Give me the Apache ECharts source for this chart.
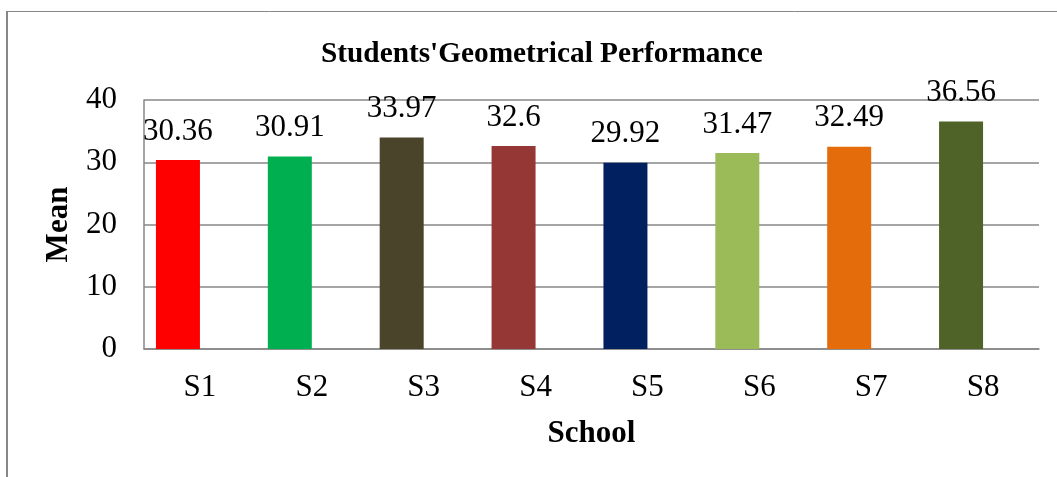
<!DOCTYPE html>
<html>
<head>
<meta charset="utf-8">
<script src="https://cdn.jsdelivr.net/npm/echarts@6/dist/echarts.min.js"></script>
<style>
html,body{margin:0;padding:0;background:#fff;}
#chart{width:1057px;height:477px;}
</style>
</head>
<body>
<div id="chart"></div>
<script>
const schools = ['S1','S2','S3','S4','S5','S6','S7','S8'];
const means = [30.36, 30.91, 33.97, 32.6, 29.92, 31.47, 32.49, 36.56];
const yTicks = [0, 10, 20, 30, 40];
const barColors = ['#FF0000','#00B050','#4A452A','#953735','#002060','#9BBB59','#E46C0A','#4F6228'];

const FONT = '"Liberation Serif", "Times New Roman", serif';
const GRAY = '#878787';

const chart = echarts.init(document.getElementById('chart'), null, {renderer: 'canvas'});
chart.setOption({
  backgroundColor: '#ffffff',
  animation: false,
  title: {
    text: "Students'Geometrical Performance",
    left: 316,
    top: 35,
    textStyle: {fontFamily: FONT, fontSize: 29.3, fontWeight: 'bold', color: '#000'}
  },
  graphic: [
    {type: 'line', shape: {x1: 7, y1: 11.5, x2: 1057, y2: 11.5}, style: {stroke: GRAY, lineWidth: 1}, silent: true},
    {type: 'line', shape: {x1: 7, y1: 11, x2: 7, y2: 477}, style: {stroke: GRAY, lineWidth: 2}, silent: true}
  ],
  grid: {left: 144, right: 18, top: 100, bottom: 128, containLabel: false},
  xAxis: {
    type: 'category',
    data: schools,
    name: 'School',
    nameLocation: 'middle',
    nameGap: 69,
    nameTextStyle: {fontFamily: FONT, fontSize: 31, fontWeight: 'bold', color: '#000'},
    axisLine: {show: true, lineStyle: {color: GRAY, width: 1.5}},
    axisTick: {show: false},
    axisLabel: {fontFamily: FONT, fontSize: 31, color: '#000', margin: 23}
  },
  yAxis: {
    type: 'value',
    min: yTicks[0],
    max: yTicks[yTicks.length - 1],
    interval: yTicks[1] - yTicks[0],
    name: 'Mean',
    nameLocation: 'middle',
    nameRotate: 90,
    nameGap: 70,
    nameTextStyle: {fontFamily: FONT, fontSize: 31, fontWeight: 'bold', color: '#000'},
    axisLine: {show: true, lineStyle: {color: GRAY, width: 1.5}},
    axisTick: {show: false},
    splitLine: {show: true, lineStyle: {color: GRAY, width: 1.5}},
    axisLabel: {fontFamily: FONT, fontSize: 31, color: '#000', margin: 27}
  },
  series: [
    {
      type: 'bar',
      barWidth: 44,
      barGap: '0%',
      data: means.map((v, i) => ({value: v, itemStyle: {color: barColors[i]}})),
      label: {
        show: true,
        position: 'top',
        distance: 13,
        fontFamily: FONT,
        fontSize: 31,
        color: '#000'
      }
    },
    {
      type: 'bar',
      barWidth: 44,
      data: schools.map(() => '-')
    }
  ]
});
</script>
</body>
</html>
